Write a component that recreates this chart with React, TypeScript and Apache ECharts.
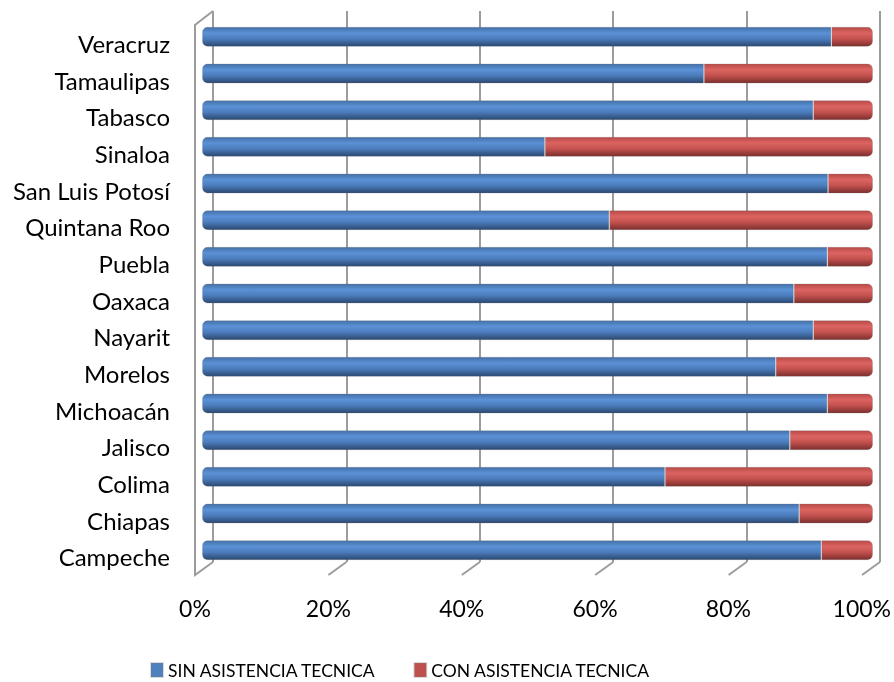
import { useEffect, useRef } from 'react';
import * as echarts from 'echarts';

const categories = ['Campeche', 'Chiapas', 'Colima', 'Jalisco', 'Michoacán', 'Morelos', 'Nayarit', 'Oaxaca', 'Puebla', 'Quintana Roo', 'San Luis Potosí', 'Sinaloa', 'Tabasco', 'Tamaulipas', 'Veracruz'];
const sinAsistencia = [92.3, 89.0, 69.0, 87.6, 93.2, 85.5, 91.1, 88.2, 93.2, 60.7, 93.3, 51.1, 91.1, 74.8, 93.8];
const conAsistencia = [7.7, 11.0, 31.0, 12.4, 6.8, 14.5, 8.9, 11.8, 6.8, 39.3, 6.7, 48.9, 8.9, 25.2, 6.2];
const tickValues = [0, 20, 40, 60, 80, 100];
const seriesNames = ['SIN ASISTENCIA TECNICA', 'CON ASISTENCIA TECNICA'];

export default function App() {
  const ref = useRef<HTMLDivElement>(null);
  useEffect(() => {
    const chart = echarts.init(ref.current!, null, { renderer: 'svg' });
    const FONT = 'Lato, "Open Sans", sans-serif';
    const front = { left: 195, right: 862, top: 25, bottom: 575 };
    const back = { left: 213, right: 880, top: 11, bottom: 562 };
    const wallColor = '#9c9c9c';

    const floorTicks = tickValues.slice(1).map((v) => ({
      type: 'line',
      silent: true,
      z: 1,
      shape: {
        x1: front.left + ((front.right - front.left) * v) / 100,
        y1: front.bottom,
        x2: back.left + ((back.right - back.left) * v) / 100,
        y2: back.bottom,
      },
      style: { stroke: wallColor, lineWidth: 2 },
    }));

    const blue = new echarts.graphic.LinearGradient(0, 0, 0, 1, [
      { offset: 0, color: '#4470a8' },
      { offset: 0.3, color: '#5b91d6' },
      { offset: 0.6, color: '#4c7dbd' },
      { offset: 1, color: '#2b4870' },
    ]);
    const red = new echarts.graphic.LinearGradient(0, 0, 0, 1, [
      { offset: 0, color: '#b84a47' },
      { offset: 0.3, color: '#dc6461' },
      { offset: 0.6, color: '#c4524f' },
      { offset: 1, color: '#7c2f2d' },
    ]);

    chart.setOption({
      animation: false,
      textStyle: { fontFamily: FONT },
      grid: [
        { left: 202, width: 671, top: 18.5, height: 550, containLabel: false },
        { left: back.left, width: back.right - back.left, top: back.top, height: back.bottom - back.top },
        { left: front.left, width: front.right - front.left, top: front.top, height: front.bottom - front.top },
      ],
      xAxis: [
        { gridIndex: 0, type: 'value', min: 0, max: 100, show: false },
        {
          gridIndex: 1, type: 'value', min: 0, max: 100, interval: 20,
          axisLine: { show: false }, axisTick: { show: false }, axisLabel: { show: false },
          splitLine: { show: true, lineStyle: { color: wallColor, width: 2 } },
        },
        {
          gridIndex: 2, type: 'value', min: 0, max: 100, interval: 20,
          axisLine: { show: false }, axisTick: { show: false }, splitLine: { show: false },
          axisLabel: { margin: 21, fontSize: 23, color: '#000', fontFamily: FONT, formatter: '{value}%' },
        },
      ],
      yAxis: [
        { gridIndex: 0, type: 'category', data: categories, show: false },
        { gridIndex: 1, type: 'category', data: categories, show: false },
        {
          gridIndex: 2, type: 'category', data: categories,
          axisLine: { show: false }, axisTick: { show: false }, splitLine: { show: false },
          axisLabel: { margin: 25, fontSize: 24, color: '#000', fontFamily: FONT },
        },
      ],
      legend: {
        left: 150, top: 661, padding: 0, itemWidth: 12, itemHeight: 14, itemGap: 37, icon: 'rect',
        textStyle: { fontSize: 17.5, color: '#000', fontFamily: FONT },
        data: [
          { name: seriesNames[0], itemStyle: { color: '#4F81BD' } },
          { name: seriesNames[1], itemStyle: { color: '#C0504D' } },
        ],
      },
      graphic: [
        {
          type: 'polyline', silent: true, z: 1,
          shape: { points: [[back.left, back.top], [front.left, front.top], [front.left, front.bottom], [back.left, back.bottom]] },
          style: { stroke: wallColor, lineWidth: 2, fill: 'none' },
        },
        ...floorTicks,
      ],
      series: [
        {
          name: seriesNames[0], type: 'bar', stack: 'total', xAxisIndex: 0, yAxisIndex: 0,
          data: sinAsistencia, barWidth: 20,
          itemStyle: { color: blue, borderRadius: [5, 0, 0, 5], borderColor: 'rgba(120,120,120,0.25)', borderWidth: 1 },
        },
        {
          name: seriesNames[1], type: 'bar', stack: 'total', xAxisIndex: 0, yAxisIndex: 0,
          data: conAsistencia, barWidth: 20,
          itemStyle: { color: red, borderRadius: [0, 5, 5, 0], borderColor: 'rgba(120,120,120,0.25)', borderWidth: 1 },
        },
      ],
    });
    return () => chart.dispose();
  }, []);
  return <div ref={ref} style={{ position: 'fixed', left: 0, top: 0, width: 894, height: 682 }} />;
}
